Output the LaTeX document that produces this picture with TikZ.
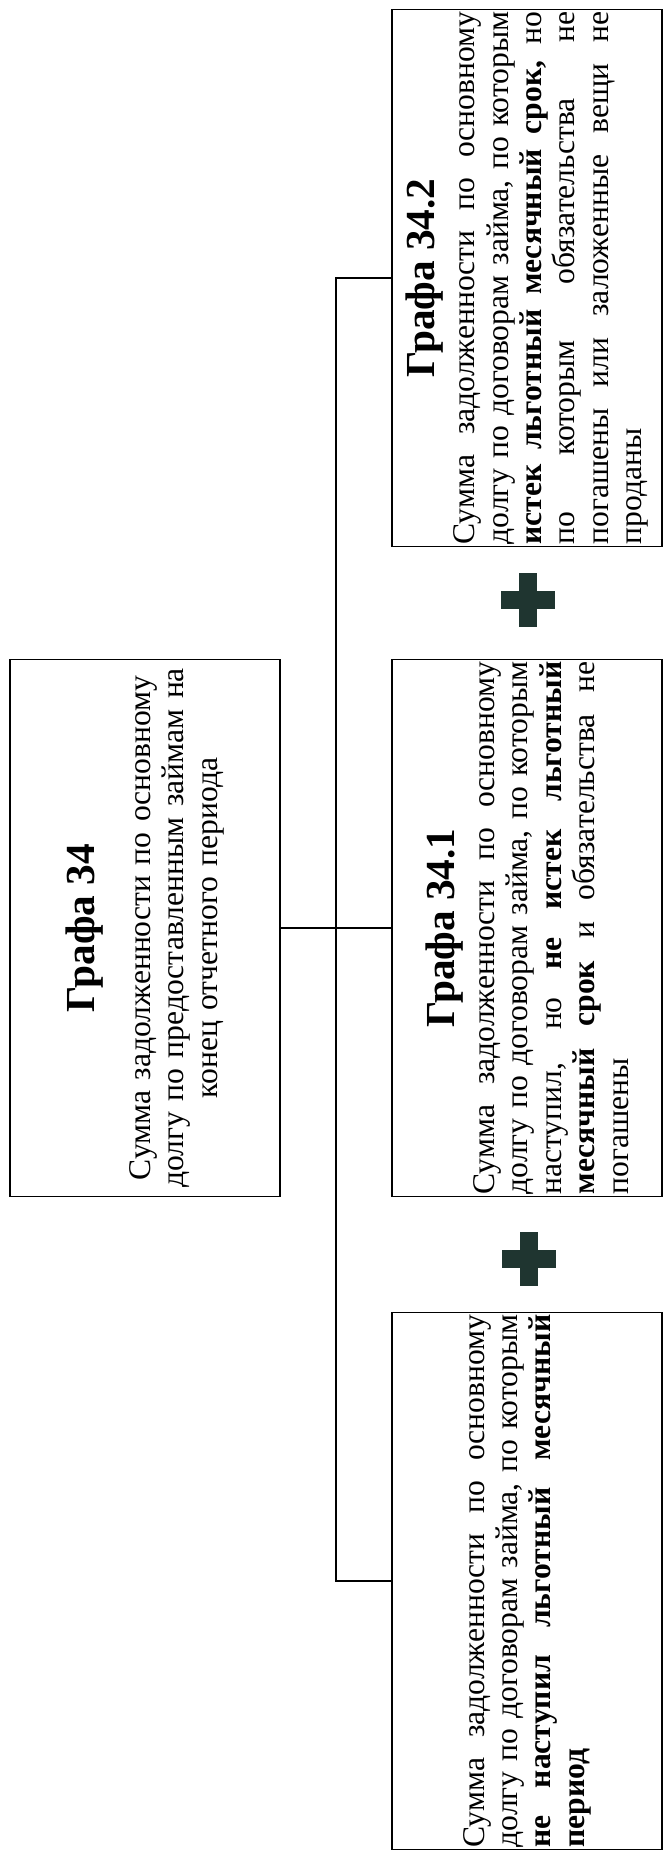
\documentclass[tikz,border=0pt]{standalone}
\usepackage{fontspec}
\setmainfont{Liberation Serif}
\setlength{\parindent}{0pt}
\tolerance=10000
\hyphenpenalty=10000

\definecolor{crossgreen}{HTML}{1F3530}
\tikzset{
  grafabox/.style={draw, rotate=90, minimum width=10.74cm, minimum height=5.4cm,
    text width=10.66cm, inner xsep=0.04cm, align=justify,
    font=\fontsize{18}{19}\selectfont},
  mainbox/.style={grafabox, align=center}
}
\newcommand{\grafatitle}[1]{{\centering\fontsize{23.5}{25}\selectfont\bfseries #1\par}}

\begin{document}
\begin{tikzpicture}[x=0.02cm, y=0.02cm, line width=0.7pt]
    \useasboundingbox (0,0) rectangle (665,1853);

    % boxes
    \node[mainbox] (main) at (145,925){\grafatitle{Графа 34}\vspace{12.5pt}
        Сумма задолженности по основному\\
        долгу по предоставленным займам на\\
        конец отчетного периода};
    \node[grafabox] (b342) at (527,1575){\grafatitle{Графа 34.2}\vspace{4pt}
        Сумма задолженности по основному\linebreak
        долгу по договорам займа, по которым\linebreak
        \textbf{истек льготный месячный срок,} но\linebreak
        по которым обязательства не\linebreak
        погашены или заложенные вещи не\linebreak
        проданы};
    \node[grafabox] (b341) at (527,925){\grafatitle{Графа 34.1}\vspace{4pt}
        Сумма задолженности по основному\linebreak
        долгу по договорам займа, по которым\linebreak
        наступил, но \textbf{не истек льготный}\linebreak
        \textbf{месячный срок} и обязательства не\linebreak
        погашены};
    \node[grafabox] (b340) at (527,272){Сумма задолженности по основному\linebreak
        долгу по договорам займа, по которым\linebreak
        \textbf{не наступил льготный месячный}\linebreak
        \textbf{период}};

    % lines
    \coordinate (trunk) at (336,0);
    \draw (main.south) -- (b341.north);
    \draw (b342.north) -- (b342.north -| trunk) -- (b340.north -| trunk) -- (b340.north);

    % plus
    \fill[crossgreen] (501,1244) rectangle (555,1262);
    \fill[crossgreen] (519,1226) rectangle (537,1280);
    \fill[crossgreen] (502,585) rectangle (556,603);
    \fill[crossgreen] (520,567) rectangle (538,621);
\end{tikzpicture}
\end{document}
